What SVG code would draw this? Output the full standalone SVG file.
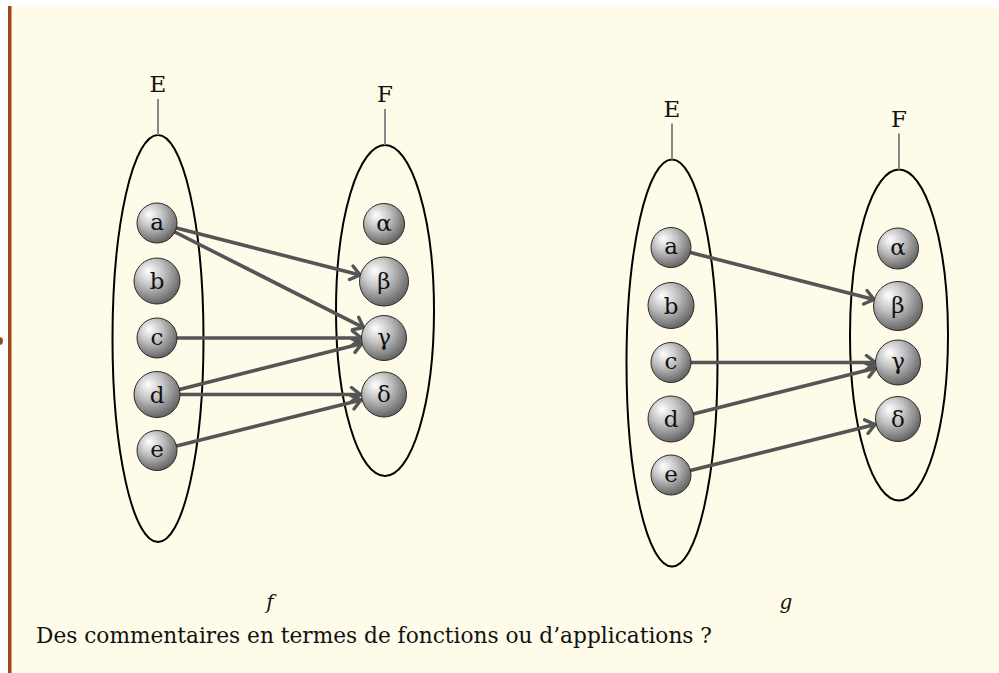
<svg xmlns="http://www.w3.org/2000/svg" width="999" height="673" viewBox="0 0 999 673">
<style>
.set{fill:none;stroke:#000;stroke-width:2}
.tag{stroke:#888;stroke-width:2}
.lbl{font-family:"DejaVu Serif","Liberation Serif",serif;font-size:23px;fill:#111;text-anchor:middle}
.nd{fill:url(#ball);stroke:#2a2a2a;stroke-width:1}
.nt{font-family:"DejaVu Serif","Liberation Serif",serif;font-size:23px;fill:#111;text-anchor:middle}
.ar{stroke:#555;stroke-width:3.6;fill:none;stroke-linecap:round;marker-end:url(#hd)}
.it{font-family:"DejaVu Serif","Liberation Serif",serif;font-style:italic;font-size:20px;fill:#111;text-anchor:middle}
.cap{font-family:"DejaVu Serif","Liberation Serif",serif;font-size:22px;fill:#111}
</style>
<defs>
<radialGradient id="ball" cx="0.4" cy="0.35" r="0.65" fx="0.3" fy="0.28">
<stop offset="0" stop-color="#ffffff"/>
<stop offset="0.45" stop-color="#c4c4c4"/>
<stop offset="1" stop-color="#666666"/>
</radialGradient>
<marker id="hd" markerUnits="userSpaceOnUse" viewBox="-12 -9 14 18" refX="0" refY="0" markerWidth="14" markerHeight="18" orient="auto">
<path d="M-9,-7 L0,0 L-9,7" fill="none" stroke="#555" stroke-width="3.4" stroke-linecap="round" stroke-linejoin="round"/>
</marker>
</defs>
<rect x="8" y="7" width="991" height="666" fill="#fefbe9"/>
<rect x="8" y="6" width="3.5" height="667" fill="#9c4819"/>
<circle cx="-1" cy="341" r="4" fill="#9c4819"/>

<g id="diagram-f">
<g id="f-E"><ellipse class="set" cx="158" cy="338.5" rx="45.5" ry="203.5"/><line class="tag" x1="158" y1="99" x2="158" y2="135"/><text class="lbl" x="158" y="92">E</text></g>
<g id="f-F"><ellipse class="set" cx="385" cy="310.5" rx="49" ry="165.5"/><line class="tag" x1="385" y1="109" x2="385" y2="145"/><text class="lbl" x="385" y="102">F</text></g>
<g id="f-connectors">
<line class="ar" x1="176.4" y1="228" x2="360" y2="275"/>
<line class="ar" x1="174.8" y1="232" x2="363.5" y2="327.6"/>
<line class="ar" x1="177" y1="338" x2="361.5" y2="338"/>
<line class="ar" x1="179.3" y1="389.4" x2="362" y2="343.4"/>
<line class="ar" x1="180" y1="394.5" x2="360.5" y2="394.5"/>
<line class="ar" x1="176.4" y1="446" x2="361" y2="400"/>
</g>
<g id="f-a"><circle class="nd" cx="157" cy="223" r="20"/><text class="nt" x="157" y="229.5">a</text></g>
<g id="f-b"><circle class="nd" cx="157" cy="281" r="23"/><text class="nt" x="157" y="289">b</text></g>
<g id="f-c"><circle class="nd" cx="157" cy="338" r="20"/><text class="nt" x="157" y="344.5">c</text></g>
<g id="f-d"><circle class="nd" cx="157" cy="394.5" r="23"/><text class="nt" x="157" y="402.5">d</text></g>
<g id="f-e"><circle class="nd" cx="157" cy="450.5" r="20"/><text class="nt" x="157" y="457">e</text></g>
<g id="f-alpha"><circle class="nd" cx="384" cy="224" r="20.5"/><text class="nt" x="384" y="230.5">α</text></g>
<g id="f-beta"><circle class="nd" cx="384" cy="281.5" r="24.5"/><text class="nt" x="384" y="288.5">β</text></g>
<g id="f-gamma"><circle class="nd" cx="384" cy="338" r="22.5"/><text class="nt" x="384" y="344.5">γ</text></g>
<g id="f-delta"><circle class="nd" cx="384" cy="394.5" r="22.5"/><text class="nt" x="384" y="402">δ</text></g>
<text class="it" x="270" y="609">f</text>
</g>

<g id="diagram-g" transform="translate(514,24.5)">
<g id="g-E"><ellipse class="set" cx="158" cy="338.5" rx="45.5" ry="203.5"/><line class="tag" x1="158" y1="99" x2="158" y2="135"/><text class="lbl" x="158" y="92">E</text></g>
<g id="g-F"><ellipse class="set" cx="385" cy="310.5" rx="49" ry="165.5"/><line class="tag" x1="385" y1="109" x2="385" y2="145"/><text class="lbl" x="385" y="102">F</text></g>
<g id="g-connectors">
<line class="ar" x1="176.4" y1="228" x2="360" y2="275"/>
<line class="ar" x1="177" y1="338" x2="361.5" y2="338"/>
<line class="ar" x1="179.3" y1="389.4" x2="362" y2="343.4"/>
<line class="ar" x1="176.4" y1="446" x2="361" y2="400"/>
</g>
<g id="g-a"><circle class="nd" cx="157" cy="223" r="20"/><text class="nt" x="157" y="229.5">a</text></g>
<g id="g-b"><circle class="nd" cx="157" cy="281" r="23"/><text class="nt" x="157" y="289">b</text></g>
<g id="g-c"><circle class="nd" cx="157" cy="338" r="20"/><text class="nt" x="157" y="344.5">c</text></g>
<g id="g-d"><circle class="nd" cx="157" cy="394.5" r="23"/><text class="nt" x="157" y="402.5">d</text></g>
<g id="g-e"><circle class="nd" cx="157" cy="450.5" r="20"/><text class="nt" x="157" y="457">e</text></g>
<g id="g-alpha"><circle class="nd" cx="384" cy="224" r="20.5"/><text class="nt" x="384" y="230.5">α</text></g>
<g id="g-beta"><circle class="nd" cx="384" cy="281.5" r="24.5"/><text class="nt" x="384" y="288.5">β</text></g>
<g id="g-gamma"><circle class="nd" cx="384" cy="338" r="22.5"/><text class="nt" x="384" y="344.5">γ</text></g>
<g id="g-delta"><circle class="nd" cx="384" cy="394.5" r="22.5"/><text class="nt" x="384" y="402">δ</text></g>
<text class="it" x="272" y="584.5">g</text>
</g>

<text class="cap" x="36" y="643" textLength="676" lengthAdjust="spacingAndGlyphs">Des commentaires en termes de fonctions ou d’applications ?</text>
</svg>
